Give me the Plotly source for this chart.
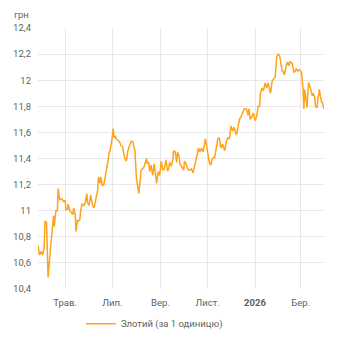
import plotly.graph_objects as go

dates = [
    "2025-03-27", "2025-03-29", "2025-03-31", "2025-04-02", "2025-04-04", "2025-04-05",
    "2025-04-07", "2025-04-08", "2025-04-09", "2025-04-11", "2025-04-12", "2025-04-13",
    "2025-04-15", "2025-04-16", "2025-04-17", "2025-04-19", "2025-04-21", "2025-04-22",
    "2025-04-24", "2025-04-25", "2025-04-27", "2025-04-29", "2025-05-01", "2025-05-02",
    "2025-05-04", "2025-05-05", "2025-05-07", "2025-05-09", "2025-05-11", "2025-05-12",
    "2025-05-14", "2025-05-15", "2025-05-17", "2025-05-18", "2025-05-20", "2025-05-21",
    "2025-05-23", "2025-05-25", "2025-05-27", "2025-05-29", "2025-05-30", "2025-06-01",
    "2025-06-03", "2025-06-05", "2025-06-07", "2025-06-08", "2025-06-10", "2025-06-12",
    "2025-06-13", "2025-06-15", "2025-06-16", "2025-06-18", "2025-06-20", "2025-06-22",
    "2025-06-24", "2025-06-25", "2025-06-27", "2025-06-28", "2025-06-30", "2025-07-02",
    "2025-07-03", "2025-07-05", "2025-07-06", "2025-07-08", "2025-07-10", "2025-07-12",
    "2025-07-14", "2025-07-17", "2025-07-19", "2025-07-21", "2025-07-23", "2025-07-25",
    "2025-07-27", "2025-07-30", "2025-08-01", "2025-08-03", "2025-08-04", "2025-08-06",
    "2025-08-07", "2025-08-09", "2025-08-11", "2025-08-14", "2025-08-15", "2025-08-17",
    "2025-08-18", "2025-08-20", "2025-08-22", "2025-08-24", "2025-08-26", "2025-08-27",
    "2025-08-29", "2025-08-31", "2025-09-02", "2025-09-04", "2025-09-06", "2025-09-08",
    "2025-09-10", "2025-09-11", "2025-09-13", "2025-09-15", "2025-09-17", "2025-09-18",
    "2025-09-20", "2025-09-22", "2025-09-23", "2025-09-25", "2025-09-26", "2025-09-29",
    "2025-10-01", "2025-10-02", "2025-10-04", "2025-10-06", "2025-10-08", "2025-10-11",
    "2025-10-13", "2025-10-15", "2025-10-17", "2025-10-19", "2025-10-20", "2025-10-22",
    "2025-10-24", "2025-10-26", "2025-10-29", "2025-10-30", "2025-11-01", "2025-11-03",
    "2025-11-05", "2025-11-07", "2025-11-10", "2025-11-12", "2025-11-14", "2025-11-16",
    "2025-11-18", "2025-11-20", "2025-11-23", "2025-11-25", "2025-11-27", "2025-11-29",
    "2025-12-01", "2025-12-03", "2025-12-05", "2025-12-08", "2025-12-10", "2025-12-12",
    "2025-12-14", "2025-12-16", "2025-12-18", "2025-12-21", "2025-12-23", "2025-12-24",
    "2025-12-26", "2025-12-28", "2025-12-30", "2026-01-01", "2026-01-03", "2026-01-05",
    "2026-01-07", "2026-01-08", "2026-01-10", "2026-01-12", "2026-01-14", "2026-01-16",
    "2026-01-18", "2026-01-21", "2026-01-23", "2026-01-25", "2026-01-27", "2026-01-29",
    "2026-01-31", "2026-02-02", "2026-02-04", "2026-02-05", "2026-02-06", "2026-02-08",
    "2026-02-10", "2026-02-12", "2026-02-14", "2026-02-15", "2026-02-18", "2026-02-20",
    "2026-02-22", "2026-02-23", "2026-02-25", "2026-02-27", "2026-03-02", "2026-03-04",
    "2026-03-05", "2026-03-06", "2026-03-07", "2026-03-09", "2026-03-11", "2026-03-12",
    "2026-03-14", "2026-03-16", "2026-03-17", "2026-03-19", "2026-03-20", "2026-03-22",
    "2026-03-23", "2026-03-25", "2026-03-26", "2026-03-28", "2026-03-29", "2026-03-31",
]

pln_rate = [
    10.73, 10.66, 10.69, 10.66, 10.72, 10.92,
    10.91, 10.64, 10.49, 10.63, 10.76, 10.77,
    10.89, 10.96, 10.88, 11.00, 11.00, 11.17,
    11.08, 11.09, 11.09, 11.07, 11.08, 11.01,
    11.01, 11.05, 11.00, 10.98, 10.97, 11.02,
    10.97, 10.84, 10.93, 10.92, 10.93, 11.00,
    11.05, 11.04, 11.06, 11.13, 11.06, 11.04,
    11.12, 11.05, 11.02, 11.04, 11.10, 11.16,
    11.26, 11.21, 11.26, 11.19, 11.20, 11.26,
    11.34, 11.37, 11.45, 11.46, 11.53, 11.63,
    11.56, 11.57, 11.55, 11.54, 11.53, 11.50,
    11.49, 11.40, 11.38, 11.46, 11.49, 11.53,
    11.53, 11.46, 11.25, 11.17, 11.13, 11.24,
    11.31, 11.32, 11.34, 11.40, 11.36, 11.37,
    11.30, 11.35, 11.27, 11.36, 11.25, 11.21,
    11.30, 11.27, 11.38, 11.31, 11.32, 11.39,
    11.31, 11.31, 11.37, 11.34, 11.39, 11.46,
    11.45, 11.37, 11.45, 11.42, 11.36, 11.33,
    11.31, 11.38, 11.36, 11.32, 11.31, 11.32,
    11.29, 11.34, 11.41, 11.45, 11.48, 11.45,
    11.48, 11.45, 11.55, 11.51, 11.42, 11.37,
    11.35, 11.40, 11.41, 11.50, 11.55, 11.56,
    11.48, 11.51, 11.46, 11.53, 11.56, 11.55,
    11.65, 11.61, 11.64, 11.58, 11.63, 11.70,
    11.72, 11.75, 11.78, 11.78, 11.73, 11.78,
    11.70, 11.72, 11.75, 11.69, 11.72, 11.80,
    11.80, 11.90, 11.94, 11.92, 11.98, 11.94,
    11.98, 11.90, 11.99, 12.01, 12.02, 12.18,
    12.20, 12.18, 12.08, 12.07, 12.07, 12.04,
    12.11, 12.14, 12.11, 12.14, 12.13, 12.06,
    12.07, 12.09, 12.07, 12.08, 12.06, 11.93,
    11.78, 11.93, 11.89, 11.79, 11.98, 11.97,
    11.93, 11.88, 11.90, 11.87, 11.80, 11.79,
    11.85, 11.93, 11.89, 11.83, 11.83, 11.78,
]

series_name = "Злотий (за 1 одиницю)"
x_tick_vals = ["2025-05-01", "2025-07-01", "2025-09-01", "2025-11-01", "2026-01-01", "2026-03-01"]
x_tick_text = ["Трав.", "Лип.", "Вер.", "Лист.", "<b>2026</b>", "Бер."]
y_tick_vals = [10.4, 10.6, 10.8, 11.0, 11.2, 11.4, 11.6, 11.8, 12.0, 12.2, 12.4]
y_tick_text = ["10,4", "10,6", "10,8", "11", "11,2", "11,4", "11,6", "11,8", "12", "12,2", "12,4"]
unit_label = "грн"

LINE_COLOR = "#FFA31A"
TEXT_COLOR = "#5f5f5f"
GRID_COLOR = "#e8e8e8"
FONT = "Roboto, 'Open Sans', sans-serif"
FS = 9.5

fig = go.Figure()
fig.add_trace(go.Scatter(
    x=dates, y=pln_rate, mode="lines", name=series_name,
    line=dict(color=LINE_COLOR, width=1.5), showlegend=True,
))

fig.update_layout(
    width=342, height=350,
    margin=dict(l=38, r=18, t=28, b=58),
    paper_bgcolor="white", plot_bgcolor="white",
    font=dict(family=FONT, size=FS, color=TEXT_COLOR),
    showlegend=True,
    legend=dict(orientation="h", x=0.15, xanchor="left", y=-0.133, yanchor="middle",
                font=dict(size=FS, color=TEXT_COLOR), bgcolor="rgba(0,0,0,0)"),
    xaxis=dict(
        range=[dates[0], dates[-1]],
        tickvals=x_tick_vals, ticktext=x_tick_text,
        showgrid=True, gridcolor=GRID_COLOR, gridwidth=1,
        zeroline=False, showline=False, ticks="",
        ticklabelstandoff=6,
        tickfont=dict(size=FS, color=TEXT_COLOR),
    ),
    yaxis=dict(
        range=[10.4, 12.4],
        tickvals=y_tick_vals, ticktext=y_tick_text,
        showgrid=True, gridcolor=GRID_COLOR, gridwidth=1,
        zeroline=False, showline=False, ticks="",
        ticklabelstandoff=6,
        tickfont=dict(size=FS, color=TEXT_COLOR),
    ),
    annotations=[dict(
        text=unit_label, xref="paper", yref="paper", x=-0.025, y=1.0,
        xanchor="right", yanchor="bottom", yshift=6, showarrow=False,
        font=dict(size=FS, color=TEXT_COLOR),
    )],
)

fig.write_html("out.html")
